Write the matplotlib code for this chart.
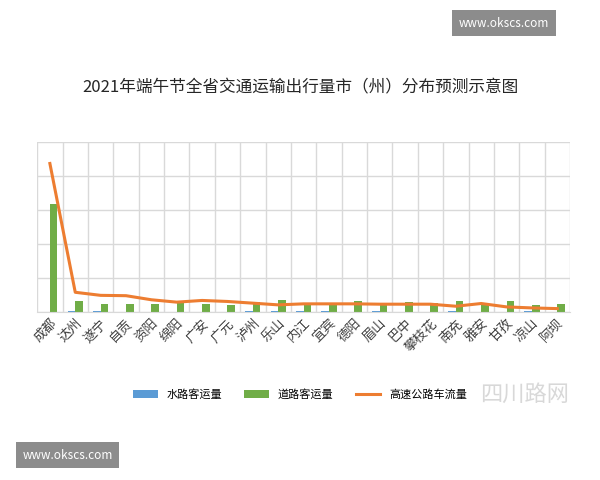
import numpy as np
import matplotlib.pyplot as plt

plt.rcParams['font.family'] = ['Noto Sans CJK SC', 'DejaVu Sans']

# City names and series values (arbitrary units)
cities = ['成都', '达州', '遂宁', '自贡', '资阳', '绵阳', '广安', '广元', '泸州', '乐山', '内江',
          '宜宾', '德阳', '眉山', '巴中', '攀枝花', '南充', '雅安', '甘孜', '凉山', '阿坝']
water = [0.0, 0.02, 0.02, 0.0, 0.0, 0.0, 0.0, 0.0, 0.04, 0.04, 0.04,
         0.02, 0.0, 0.02, 0.0, 0.0, 0.04, 0.0, 0.0, 0.02, 0.0]
road = [3.17, 0.31, 0.25, 0.25, 0.23, 0.31, 0.25, 0.22, 0.29, 0.35, 0.24,
        0.24, 0.31, 0.27, 0.30, 0.26, 0.31, 0.27, 0.31, 0.20, 0.25]
highway = [4.37, 0.58, 0.49, 0.48, 0.36, 0.29, 0.34, 0.31, 0.26, 0.21, 0.24,
           0.24, 0.24, 0.23, 0.23, 0.23, 0.17, 0.25, 0.15, 0.12, 0.10]

fig = plt.figure(figsize=(6, 4.8), dpi=100)
ax = fig.add_axes([0.062, 0.35, 0.888, 0.354])

x = np.arange(len(cities))
w = 0.3
b1 = ax.bar(x - w / 2, water, w, color='#5b9bd5', label='水路客运量')
b2 = ax.bar(x + w / 2, road, w, color='#70ad47', label='道路客运量')
l1, = ax.plot(x, highway, color='#ed7d31', lw=2.2, label='高速公路车流量')

ax.set_xlim(-0.5, len(cities) - 0.5)
ax.set_ylim(0, 5)
ax.set_yticks(np.arange(0, 6))
ax.set_xticks(np.arange(-0.5, len(cities)), minor=True)
ax.grid(True, which='minor', axis='x', color='#d9d9d9', lw=1)
ax.grid(True, which='major', axis='y', color='#d9d9d9', lw=1)
ax.tick_params(axis='y', left=False, labelleft=False)
ax.tick_params(axis='x', which='both', length=0)
ax.set_xticks(x)
ax.set_xticklabels(cities, rotation=45, ha='right', fontsize=9.5, color='#404040',
                   rotation_mode='anchor')
for s in ax.spines.values():
    s.set_visible(False)
ax.spines['bottom'].set_visible(True)
ax.spines['bottom'].set_color('#d9d9d9')
ax.set_axisbelow(True)

fig.text(0.5, 0.817, '2021年端午节全省交通运输出行量市（州）分布预测示意图',
         ha='center', va='center', fontsize=12, color='#262626')
fig.legend(handles=[b1, b2, l1], loc='center', bbox_to_anchor=(0.5, 0.178), ncol=3,
           frameon=False, fontsize=8, handlelength=2.2, columnspacing=2)

# watermarks
fig.text(0.84, 0.952, 'www.okscs.com', ha='center', va='center', fontsize=8.5,
         color='white', bbox=dict(boxstyle='square,pad=0.55', fc='#8c8c8c', ec='none'))
fig.text(0.113, 0.052, 'www.okscs.com', ha='center', va='center', fontsize=8.5,
         color='white', bbox=dict(boxstyle='square,pad=0.55', fc='#8c8c8c', ec='none'))
fig.text(0.875, 0.178, '四川路网', ha='center', va='center', fontsize=16,
         color='#cfcfcf', alpha=0.8)

fig.savefig('out.png', dpi=100)
